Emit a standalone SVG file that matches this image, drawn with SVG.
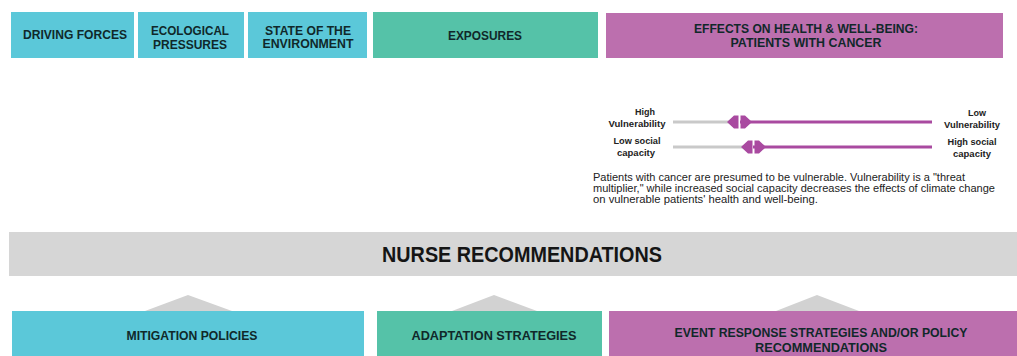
<svg xmlns="http://www.w3.org/2000/svg" width="1017" height="356" viewBox="0 0 1017 356">
<style>
.cyan{fill:#5bc8d9}
.teal{fill:#55c2a8}
.purp{fill:#bc6fae}
.band{fill:#d6d6d6}
.tri{fill:#d2d2d2}
.lbl{font-family:"Liberation Sans",Arial,sans-serif;font-weight:bold;font-size:12px;fill:#10282a;text-anchor:middle}
.cnd{font-size:12.5px}
.sm{font-family:"Liberation Sans",Arial,sans-serif;font-weight:bold;font-size:9px;fill:#222;text-anchor:middle}
.para{font-family:"Liberation Sans",Arial,sans-serif;font-size:10.5px;fill:#222}
.big{font-family:"Liberation Sans",Arial,sans-serif;font-weight:bold;font-size:22px;fill:#151515;text-anchor:middle}
.gl{stroke:#c9c9c9;stroke-width:3;fill:none}
.pl{stroke:#a94aa0;stroke-width:3;fill:none}
.mk{fill:#a94aa0}
</style>
<rect width="1017" height="356" fill="#ffffff"/>
<g id="driving-forces"><rect class="cyan" x="11" y="12" width="123" height="46"/><text class="lbl" x="75" y="39" textLength="104" lengthAdjust="spacingAndGlyphs">DRIVING FORCES</text></g>
<g id="ecological-pressures"><rect class="cyan" x="138" y="12" width="106" height="46"/><text class="lbl" x="190" y="35" textLength="78" lengthAdjust="spacingAndGlyphs">ECOLOGICAL</text><text class="lbl" x="190" y="48.5" textLength="74" lengthAdjust="spacingAndGlyphs">PRESSURES</text></g>
<g id="state-of-environment"><rect class="cyan" x="248" y="12" width="119" height="46"/><text class="lbl" x="308" y="34.5" textLength="86" lengthAdjust="spacingAndGlyphs">STATE OF THE</text><text class="lbl" x="308" y="48" textLength="91" lengthAdjust="spacingAndGlyphs">ENVIRONMENT</text></g>
<g id="exposures"><rect class="teal" x="373" y="12" width="225" height="46"/><text class="lbl" x="485" y="39.5" textLength="74" lengthAdjust="spacingAndGlyphs">EXPOSURES</text></g>
<g id="effects"><rect class="purp" x="606" y="13" width="397" height="45"/><text class="lbl cnd" x="806" y="32.5" textLength="224" lengthAdjust="spacingAndGlyphs">EFFECTS ON HEALTH &amp; WELL-BEING:</text><text class="lbl cnd" x="806" y="46.5" textLength="151" lengthAdjust="spacingAndGlyphs">PATIENTS WITH CANCER</text></g>
<g id="vulnerability-scale">
<text class="sm" x="645" y="115">High</text>
<text class="sm" x="637" y="127" textLength="57" lengthAdjust="spacingAndGlyphs">Vulnerability</text>
<text class="sm" x="977" y="116">Low</text>
<text class="sm" x="972" y="128" textLength="56" lengthAdjust="spacingAndGlyphs">Vulnerability</text>
<line class="gl" x1="673" y1="122" x2="735" y2="122"/>
<line class="pl" x1="740" y1="122" x2="932" y2="122"/>
<path class="mk" d="M727,122 L734,115.5 L738.5,115.5 L738.5,128.5 L734,128.5 Z M752,122 L745,115.5 L740.5,115.5 L740.5,128.5 L745,128.5 Z"/>
</g>
<g id="social-capacity-scale">
<text class="sm" x="637" y="144" textLength="47" lengthAdjust="spacingAndGlyphs">Low social</text>
<text class="sm" x="636" y="155.5" textLength="38" lengthAdjust="spacingAndGlyphs">capacity</text>
<text class="sm" x="972" y="145" textLength="49" lengthAdjust="spacingAndGlyphs">High social</text>
<text class="sm" x="972" y="156.5" textLength="38" lengthAdjust="spacingAndGlyphs">capacity</text>
<line class="gl" x1="673" y1="147" x2="748" y2="147"/>
<line class="pl" x1="753" y1="147" x2="932" y2="147"/>
<path class="mk" d="M741,147 L748,140.5 L752.5,140.5 L752.5,153.5 L748,153.5 Z M766,147 L759,140.5 L754.5,140.5 L754.5,153.5 L759,153.5 Z"/>
</g>
<g id="note">
<text class="para" x="593" y="180.5" textLength="372" lengthAdjust="spacingAndGlyphs">Patients with cancer are presumed to be vulnerable. Vulnerability is a "threat</text>
<text class="para" x="593" y="191.5" textLength="402" lengthAdjust="spacingAndGlyphs">multiplier," while increased social capacity decreases the effects of climate change</text>
<text class="para" x="593" y="202.5" textLength="225" lengthAdjust="spacingAndGlyphs">on vulnerable patients' health and well-being.</text>
</g>
<g id="nurse-recommendations"><rect class="band" x="9" y="232" width="1008" height="44"/><text class="big" x="522" y="261.5" textLength="280" lengthAdjust="spacingAndGlyphs">NURSE RECOMMENDATIONS</text></g>
<g id="connectors">
<polygon class="tri" points="145,311 188,295 232,311"/>
<polygon class="tri" points="452,311 494,295 537,311"/>
<polygon class="tri" points="776,311 817,295 859,311"/>
</g>
<g id="mitigation"><rect class="cyan" x="12" y="311" width="352" height="45"/><text class="lbl" x="192" y="339.5" textLength="131" lengthAdjust="spacingAndGlyphs">MITIGATION POLICIES</text></g>
<g id="adaptation"><rect class="teal" x="377" y="311" width="225" height="45"/><text class="lbl" x="494" y="339.5" textLength="165" lengthAdjust="spacingAndGlyphs">ADAPTATION STRATEGIES</text></g>
<g id="event-response"><rect class="purp" x="609" y="311" width="408" height="45"/><text class="lbl cnd" x="821" y="336.5" textLength="293" lengthAdjust="spacingAndGlyphs">EVENT RESPONSE STRATEGIES AND/OR POLICY</text><text class="lbl cnd" x="821" y="351.5" textLength="132" lengthAdjust="spacingAndGlyphs">RECOMMENDATIONS</text></g>
</svg>
